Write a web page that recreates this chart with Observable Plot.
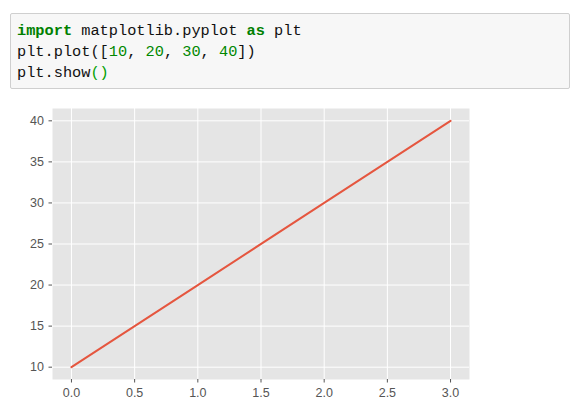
<!DOCTYPE html>
<html>
<head>
<meta charset="utf-8">
<script src="https://cdn.jsdelivr.net/npm/d3@7"></script>
<script src="https://cdn.jsdelivr.net/npm/@observablehq/plot@0.6"></script>
<style>
  html, body { margin: 0; padding: 0; background: #fff; width: 575px; height: 415px; overflow: hidden; }
  #code {
    position: absolute; left: 10px; top: 13px; width: 560px; height: 76px;
    box-sizing: border-box;
    background: #f7f7f7; border: 1px solid #cfcfcf; border-radius: 2px;
    margin: 0; padding: 7px 6px;
    font-family: "Liberation Mono", "DejaVu Sans Mono", monospace; font-size: 15.3px; line-height: 21px;
    color: #111;
  }
  #code div { white-space: pre; height: 21px; }
  .kw { color: #008000; font-weight: bold; }
  .num { color: #008800; }
  .br { color: #00a000; }
  #chart { position: absolute; left: 0; top: 95px; }
</style>
</head>
<body>
<div id="code">
<div><span class="kw">import</span><span> matplotlib.pyplot </span><span class="kw">as</span><span> plt</span></div>
<div><span>plt.plot([</span><span class="num">10</span><span>, </span><span class="num">20</span><span>, </span><span class="num">30</span><span>, </span><span class="num">40</span><span>])</span></div>
<div><span>plt.show</span><span class="br">()</span></div>
</div>
<div id="chart"></div>
<script>
const xValues = [0, 1, 2, 3];
const yValues = [10, 20, 30, 40];
const xTicks = [0, 0.5, 1, 1.5, 2, 2.5, 3];
const yTicks = [10, 15, 20, 25, 30, 35, 40];

const data = xValues.map((x, i) => ({x, y: yValues[i]}));

const chart = Plot.plot({
  width: 575,
  height: 320,
  marginLeft: 52,
  marginRight: 106,
  marginTop: 13,
  marginBottom: 36,
  style: {fontFamily: "'Liberation Sans', sans-serif", fontSize: "12.5px", color: "#555", background: "#fff"},
  x: {domain: [-0.15, 3.15], ticks: xTicks, tickFormat: d3.format(".1f")},
  y: {domain: [8.5, 41.5], ticks: yTicks, tickFormat: d3.format("d")},
  marks: [
    Plot.frame({fill: "#e5e5e5", stroke: null}),
    Plot.gridX(xTicks, {stroke: "#fff", strokeOpacity: 1, strokeWidth: 1}),
    Plot.gridY(yTicks, {stroke: "#fff", strokeOpacity: 1, strokeWidth: 1}),
    Plot.axisX(xTicks, {tickSize: 3.5, tickPadding: 5, stroke: "#555", fill: "#555", label: null, tickFormat: d3.format(".1f")}),
    Plot.axisY(yTicks, {tickSize: 3.5, tickPadding: 5, stroke: "#555", fill: "#555", label: null, tickFormat: d3.format("d")}),
    Plot.line(data, {x: "x", y: "y", stroke: "#E5563F", strokeWidth: 2})
  ]
});
document.getElementById("chart").appendChild(chart);
</script>
</body>
</html>
